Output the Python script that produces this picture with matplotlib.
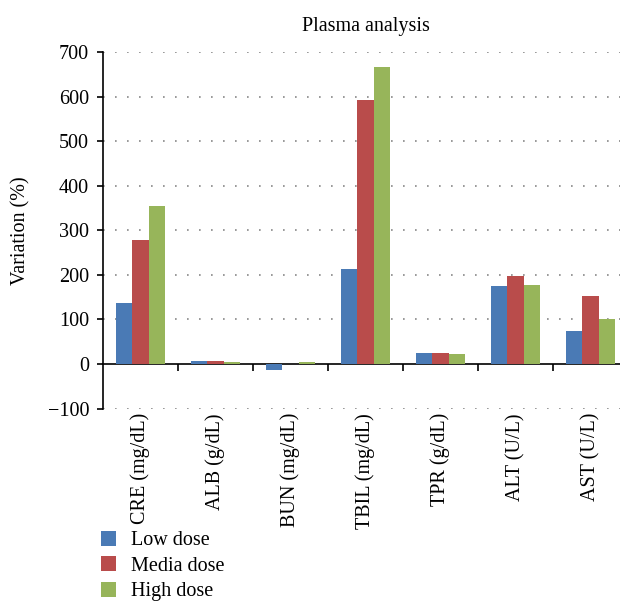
import numpy as np
from matplotlib import pyplot as plt

categorias = ["CRE (mg/dL)", "ALB (g/dL)", "BUN (mg/dL)", "TBIL (mg/dL)",
              "TPR (g/dL)", "ALT (U/L)", "AST (U/L)"]
series = ["Low dose", "Media dose", "High dose"]
low_dose = [137, 7, -13, 213, 25, 175, 75]
media_dose = [279, 7, -1, 593, 25, 198, 152]
high_dose = [355, 4, 4, 667, 22, 177, 101]
colores = ["#4a7ab5", "#b94c4b", "#97b55a"]

plt.rcParams["font.family"] = ["Liberation Serif", "DejaVu Serif"]
tam = 14.5

fig = plt.figure(figsize=(6.2, 6.03), dpi=100)
ax = fig.add_axes([103 / 620, 1 - 408.6 / 603, 525 / 620, (408.6 - 52) / 603])

x = np.arange(len(categorias))
ancho = 0.2222
for i, (nombre, valores) in enumerate(zip(series, [low_dose, media_dose, high_dose])):
    ax.bar(x + (i - 1) * ancho, valores, width=ancho, color=colores[i], label=nombre, zorder=3)

ax.set_xlim(-0.5, len(categorias) - 0.5)
ax.set_ylim(-100, 700)
ax.set_yticks(range(-100, 701, 100))
ax.set_yticklabels(["\u2212100"] + [str(v) for v in range(0, 701, 100)])
ax.tick_params(axis="y", labelsize=tam, length=4, width=1.2, direction="out", pad=6)

for v in range(-100, 701, 100):
    if v != 0:
        ax.axhline(v, color="#888888", lw=1.2, ls=(0, (1, 6.2)), zorder=1)

ax.spines["top"].set_visible(False)
ax.spines["right"].set_visible(False)
ax.spines["bottom"].set_position(("data", 0))
ax.spines["bottom"].set_linewidth(1.2)
ax.spines["left"].set_linewidth(1.2)

ax.set_xticks(np.arange(0.5, len(categorias) - 0.5, 1))
ax.set_xticklabels([])
ax.tick_params(axis="x", length=5, width=1.2, direction="out")
for xi, cat in zip(x, categorias):
    ax.text(xi, -110, cat, rotation=90, ha="center", va="top", fontsize=tam, clip_on=False)

ax.set_ylabel("Variation (%)", fontsize=tam, labelpad=12)
fig.text(366 / 620, 1 - 26 / 603, "Plasma analysis", ha="center", va="center", fontsize=tam)

fig.legend(loc="upper left", bbox_to_anchor=(93 / 620, 1 - 523 / 603), frameon=False,
           fontsize=tam, handlelength=0.75, handleheight=0.75, labelspacing=0.3,
           handletextpad=0.75, borderaxespad=0)

plt.savefig("out.png", dpi=100)
